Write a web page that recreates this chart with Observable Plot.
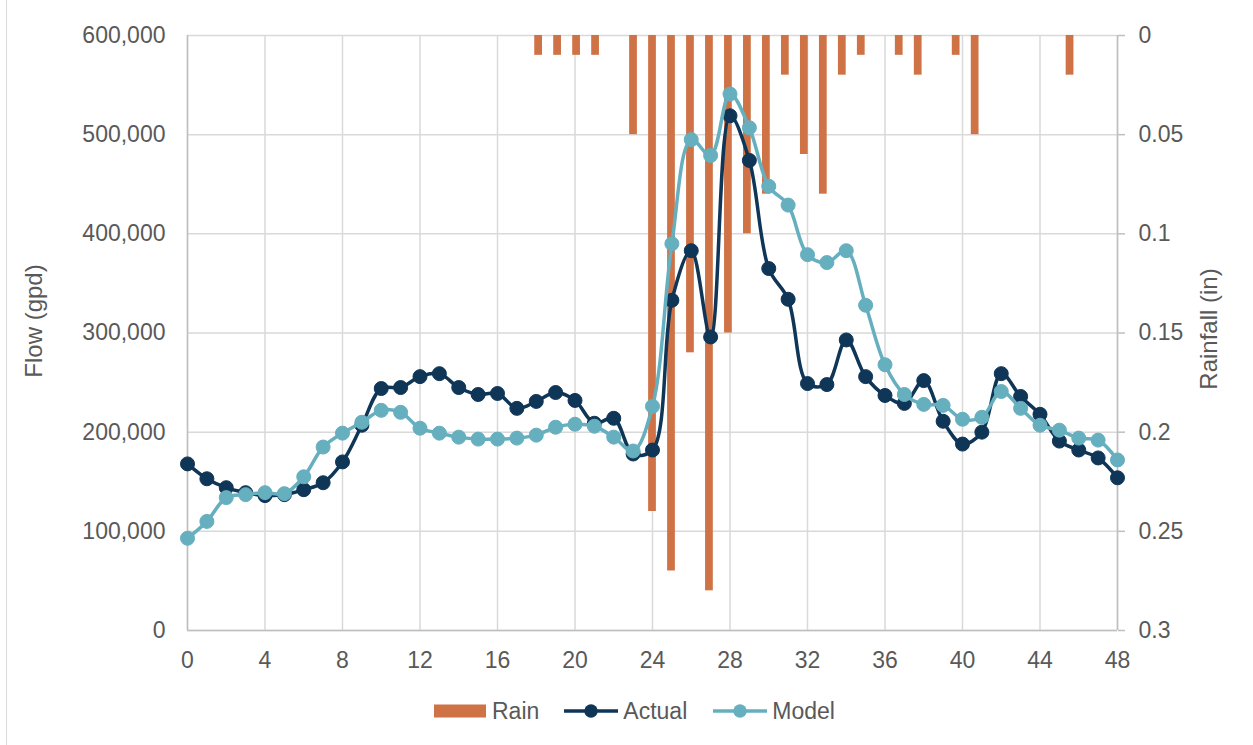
<!DOCTYPE html>
<html>
<head>
<meta charset="utf-8">
<script src="https://cdn.jsdelivr.net/npm/d3@7"></script>
<script src="https://cdn.jsdelivr.net/npm/@observablehq/plot@0.6"></script>
<style>
  html, body { margin: 0; padding: 0; background: #fff; }
  #wrap { position: relative; width: 1253px; height: 745px; overflow: hidden; font-family: "Liberation Sans", Arial, sans-serif; color: #595959; }
  #border { position: absolute; left: 6px; top: 0; width: 1px; height: 745px; background: #d9d9d9; }
  #legend { position: absolute; left: 434px; top: 696px; height: 30px; display: flex; align-items: center; font-size: 23px; color: #595959; white-space: nowrap; }
  #legend .item { display: flex; align-items: center; }
  #legend svg { display: block; }
</style>
</head>
<body>
<div id="wrap"><div id="border"></div><div id="chart"></div><div id="legend"></div></div>
<script>
// ---- data ----
const hours = Array.from({length: 49}, (_, i) => i);
const rain = [0,0,0,0,0,0,0,0,0,0,0,0,0,0,0,0,0,0,
  0.01,0.01,0.01,0.01,0,0.05,0.24,0.27,0.16,0.28,0.15,0.10,0.08,0.02,0.06,0.08,0.02,0.01,0,0.01,0.02,0,0.01,0.05,0,0,0,0,0.02,0,0];
const actual = [168000,153000,144000,139000,136000,137000,142000,149000,170000,207000,
  244000,245000,256000,259000,245000,238000,239000,224000,231000,240000,
  232000,209000,214000,178000,182000,333000,383000,296000,519000,474000,
  365000,334000,249000,248000,293000,256000,237000,229000,252000,211000,
  188000,200000,259000,236000,218000,191000,182000,174000,154000];
const model = [93000,110000,134000,137000,139000,138000,155000,185000,199000,210000,
  222000,220000,204000,199000,195000,193000,193000,194000,197000,205000,
  208000,206000,195000,181000,226000,390000,495000,479000,541000,507000,
  448000,429000,379000,371000,383000,328000,268000,238000,228000,227000,
  213000,215000,241000,224000,207000,202000,194000,192000,172000];
const xTicks = [0,4,8,12,16,20,24,28,32,36,40,44,48];
const flowTicks = [0,100000,200000,300000,400000,500000,600000];
const seriesNames = ["Rain", "Actual", "Model"];
const colors = {Rain: "#CF7347", Actual: "#0F3557", Model: "#66AFBF"};

// ---- tables ----
const FLOW_MAX = 600000, RAIN_MAX = 0.3;
const rainRows = hours.map((h, i) => ({hour: h, rain: rain[i]})).filter(d => d.rain > 0);
const actualRows = hours.map((h, i) => ({hour: h, flow: actual[i]}));
const modelRows = hours.map((h, i) => ({hour: h, flow: model[i]}));
const rainToFlow = r => FLOW_MAX - r * (FLOW_MAX / RAIN_MAX);
const flowToRain = f => +((FLOW_MAX - f) * RAIN_MAX / FLOW_MAX).toFixed(2);
// rain is on a category axis of 49 bands spanning the plot width
const bandCenter = h => (h + 0.5) * 48 / 49;
const halfBar = 0.2;

const chart = Plot.plot({
  width: 1253,
  height: 680,
  marginTop: 35,
  marginBottom: 50,
  marginLeft: 187,
  marginRight: 136,
  style: {fontFamily: "'Liberation Sans', Arial, sans-serif", fontSize: "23px", color: "#595959", background: "transparent", overflow: "visible"},
  x: {domain: [0, 48]},
  y: {domain: [0, FLOW_MAX]},
  marks: [
    Plot.gridY({ticks: flowTicks, stroke: "#d9d9d9", strokeOpacity: 1, strokeWidth: 1.5}),
    Plot.gridX({ticks: xTicks, stroke: "#d9d9d9", strokeOpacity: 1, strokeWidth: 1.5}),
    Plot.ruleX([0, 48], {stroke: "#bfbfbf", strokeWidth: 1.5}),
    Plot.ruleY([0], {stroke: "#bfbfbf", strokeWidth: 1.5}),
    Plot.axisY({anchor: "left", ticks: flowTicks, tickFormat: d3.format(","), tickSize: 0, tickPadding: 22, label: null}),
    Plot.axisY({anchor: "right", ticks: flowTicks, tickFormat: f => String(flowToRain(f)), tickSize: 7, tickPadding: 14, stroke: "#bfbfbf", strokeWidth: 1.5, strokeOpacity: 1, label: null}),
    Plot.axisX({ticks: xTicks, tickFormat: d => String(d), tickSize: 0, tickPadding: 21, label: null}),
    Plot.rect(rainRows, {
      x1: d => bandCenter(d.hour) - halfBar,
      x2: d => bandCenter(d.hour) + halfBar,
      y1: d => FLOW_MAX,
      y2: d => rainToFlow(d.rain),
      fill: colors.Rain
    }),
    Plot.line(actualRows, {x: "hour", y: "flow", stroke: colors.Actual, strokeWidth: 3.5, curve: "catmull-rom"}),
    Plot.dot(actualRows, {x: "hour", y: "flow", r: 7, fill: colors.Actual, stroke: colors.Actual, strokeWidth: 1}),
    Plot.line(modelRows, {x: "hour", y: "flow", stroke: colors.Model, strokeWidth: 3.5, curve: "catmull-rom"}),
    Plot.dot(modelRows, {x: "hour", y: "flow", r: 7, fill: colors.Model, stroke: colors.Model, strokeWidth: 1}),
    Plot.text(["Flow (gpd)"], {frameAnchor: "left", textAnchor: "middle", lineAnchor: "middle", dx: -153, dy: -12, rotate: -90, fill: "#595959", fontSize: 24}),
    Plot.text(["Rainfall (in)"], {frameAnchor: "right", textAnchor: "middle", lineAnchor: "middle", dx: 92, dy: -4, rotate: -90, fill: "#595959", fontSize: 24})
  ]
});
document.getElementById("chart").appendChild(chart);

// ---- legend ----
const legend = document.getElementById("legend");
seriesNames.forEach((name, i) => {
  const item = document.createElement("div");
  item.className = "item";
  if (i > 0) item.style.marginLeft = i === 1 ? "25px" : "26px";
  let sw;
  if (name === "Rain") {
    sw = `<svg width="52" height="14"><rect x="0" y="0.5" width="52" height="13" fill="${colors.Rain}"/></svg>`;
  } else {
    sw = `<svg width="54" height="16"><line x1="0" x2="54" y1="8" y2="8" stroke="${colors[name]}" stroke-width="3.5"/><circle cx="27" cy="8" r="6.7" fill="${colors[name]}"/></svg>`;
  }
  item.innerHTML = sw + `<span style="margin-left:${name === "Rain" ? 6 : 5}px">${name}</span>`;
  legend.appendChild(item);
});
</script>
</body>
</html>
